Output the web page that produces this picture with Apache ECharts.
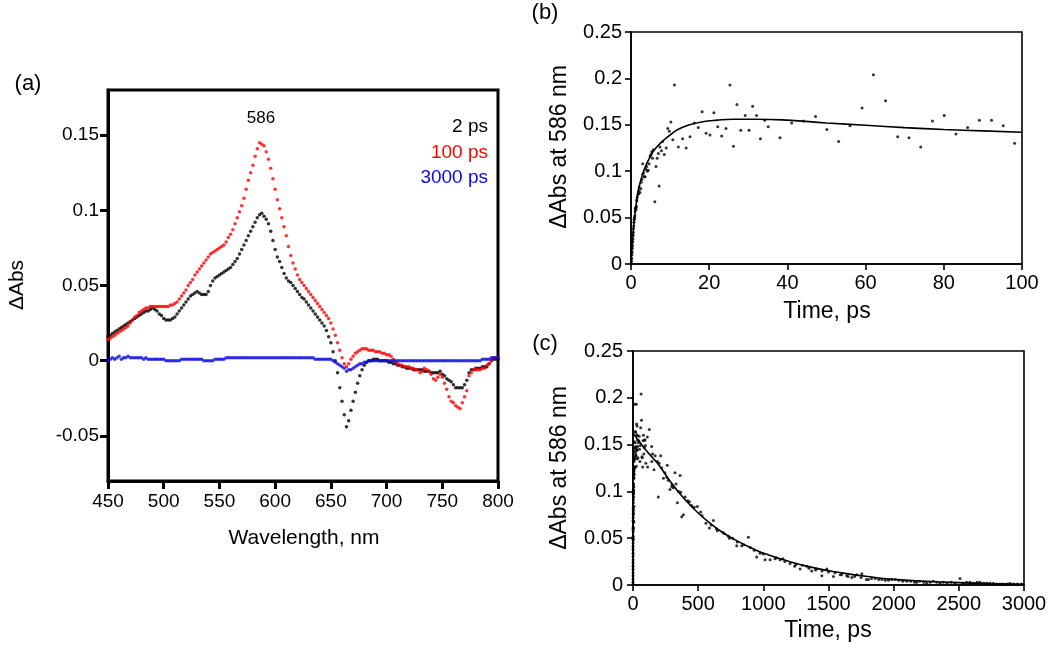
<!DOCTYPE html>
<html><head><meta charset="utf-8">
<script src="https://cdn.jsdelivr.net/npm/echarts@6/dist/echarts.min.js"></script>
<style>html,body{margin:0;padding:0;background:#fff}#c{width:1050px;height:649px}</style>
</head><body><div id="c"></div>
<script>
const FONT = '"Liberation Sans", Arial, Helvetica, sans-serif';

// ---------- panel (a): transient spectra, sampled every 2 nm from 450 nm ----------
const wlStart = 450, wlStep = 2;
const abs2ps = [
  0.016,0.017,0.018,0.019,0.020,0.021,0.022,0.023,0.024,0.025,
  0.026,0.027,0.028,0.029,0.030,0.031,0.032,0.033,0.033,0.034,
  0.035,0.034,0.033,0.031,0.030,0.028,0.027,0.027,0.027,0.028,
  0.029,0.031,0.033,0.035,0.037,0.039,0.041,0.043,0.044,0.045,
  0.046,0.045,0.044,0.044,0.044,0.046,0.050,0.053,0.055,0.056,
  0.057,0.058,0.059,0.060,0.061,0.062,0.064,0.066,0.068,0.071,
  0.074,0.077,0.080,0.083,0.086,0.089,0.092,0.095,0.097,0.098,
  0.096,0.094,0.091,0.086,0.080,0.074,0.069,0.066,0.062,0.058,
  0.055,0.053,0.052,0.050,0.048,0.046,0.044,0.042,0.041,0.039,
  0.037,0.035,0.033,0.031,0.029,0.027,0.025,0.023,0.020,0.016,
  0.012,0.006,0.000,-0.008,-0.018,-0.027,-0.036,-0.044,-0.040,-0.033,
  -0.027,-0.021,-0.015,-0.010,-0.006,-0.003,-0.001,0.000,0.000,0.001,
  0.001,0.001,0.000,0.000,0.000,0.000,-0.001,-0.001,-0.002,-0.002,
  -0.003,-0.003,-0.004,-0.004,-0.005,-0.005,-0.005,-0.006,-0.006,-0.006,
  -0.006,-0.006,-0.007,-0.007,-0.007,-0.008,-0.008,-0.008,-0.008,-0.007,
  -0.009,-0.010,-0.012,-0.013,-0.014,-0.016,-0.018,-0.018,-0.018,-0.018,
  -0.016,-0.013,-0.008,-0.006,-0.006,-0.005,-0.005,-0.005,-0.004,-0.004,
  -0.004,-0.002,0.000,0.001,0.001,0.001
];
const abs100ps = [
  0.014,0.015,0.016,0.017,0.018,0.019,0.020,0.021,0.022,0.023,
  0.025,0.027,0.029,0.030,0.032,0.033,0.034,0.035,0.035,0.036,
  0.036,0.036,0.036,0.036,0.036,0.036,0.036,0.036,0.037,0.037,
  0.038,0.039,0.041,0.043,0.045,0.047,0.050,0.052,0.054,0.057,
  0.059,0.061,0.063,0.065,0.067,0.069,0.071,0.072,0.073,0.074,
  0.075,0.076,0.077,0.079,0.082,0.084,0.087,0.091,0.095,0.099,
  0.103,0.108,0.114,0.120,0.125,0.130,0.136,0.141,0.145,0.144,
  0.143,0.139,0.134,0.128,0.121,0.114,0.107,0.101,0.095,0.089,
  0.083,0.076,0.070,0.065,0.061,0.057,0.054,0.052,0.050,0.048,
  0.046,0.044,0.042,0.040,0.038,0.036,0.034,0.032,0.030,0.028,
  0.025,0.021,0.017,0.012,0.007,0.002,-0.002,-0.004,-0.002,0.001,
  0.003,0.005,0.006,0.007,0.008,0.008,0.008,0.007,0.007,0.007,
  0.006,0.006,0.006,0.005,0.005,0.004,0.004,0.003,0.001,-0.001,
  -0.002,-0.003,-0.003,-0.004,-0.004,-0.004,-0.005,-0.005,-0.006,-0.006,
  -0.008,-0.007,-0.005,-0.006,-0.007,-0.009,-0.012,-0.013,-0.011,-0.009,
  -0.011,-0.015,-0.019,-0.024,-0.027,-0.028,-0.030,-0.031,-0.032,-0.028,
  -0.024,-0.020,-0.010,-0.008,-0.006,-0.006,-0.006,-0.006,-0.005,-0.005,
  -0.003,-0.002,0.000,0.002,0.002,0.002
];
const abs3000ps = [
  0.000,0.001,0.002,0.001,0.002,0.003,0.001,0.002,0.002,0.003,
  0.002,0.002,0.002,0.002,0.002,0.002,0.001,0.002,0.001,0.001,
  0.001,0.001,0.001,0.001,0.001,0.001,0.000,0.000,0.000,0.000,
  0.000,0.000,0.000,0.001,0.001,0.001,0.001,0.001,0.001,0.001,
  0.001,0.001,0.001,0.000,0.000,0.000,0.000,0.000,0.001,0.001,
  0.001,0.001,0.001,0.002,0.002,0.002,0.002,0.002,0.002,0.002,
  0.002,0.002,0.002,0.002,0.002,0.002,0.002,0.002,0.002,0.002,
  0.002,0.002,0.002,0.002,0.002,0.002,0.002,0.002,0.002,0.002,
  0.002,0.002,0.002,0.002,0.002,0.002,0.002,0.002,0.002,0.002,
  0.002,0.002,0.002,0.001,0.001,0.001,0.001,0.001,0.001,0.001,
  0.001,0.000,-0.001,-0.002,-0.003,-0.004,-0.005,-0.007,-0.006,-0.006,
  -0.005,-0.004,-0.003,-0.002,-0.002,-0.001,-0.001,0.000,0.000,0.000,
  0.000,0.000,0.000,0.000,0.000,0.000,0.000,0.000,0.000,0.000,
  0.000,0.000,0.000,0.000,0.000,0.000,0.000,0.000,0.000,0.000,
  0.000,0.000,0.000,0.000,0.000,0.000,0.000,0.000,0.000,0.000,
  0.000,0.000,0.000,0.000,0.000,0.000,0.000,0.000,0.000,0.000,
  0.000,0.000,0.000,0.000,0.000,0.000,0.000,0.000,0.001,0.001,
  0.001,0.001,0.002,0.002,0.002,0.002
];
const aTicksY = [-0.05, 0, 0.05, 0.1, 0.15];
const legendA = ['2 ps', '100 ps', '3000 ps'];

// ---------- panel (b): kinetics at 586 nm, 0-100 ps ----------
const pointsB = [
  [0.1,0.000],[0.15,0.003],[0.2,0.006],[0.25,0.010],[0.3,0.013],[0.35,0.017],[0.4,0.020],[0.45,0.024],
  [0.5,0.027],[0.55,0.031],[0.6,0.034],[0.65,0.038],[0.7,0.041],[0.75,0.045],[0.8,0.048],[0.85,0.050],
  [0.9,0.049],[1.0,0.052],[1.05,0.057],[1.1,0.060],[1.2,0.061],[1.3,0.059],[1.4,0.062],[1.45,0.069],
  [1.5,0.068],[1.6,0.072],[1.8,0.075],[1.9,0.076],[2.0,0.079],[2.1,0.083],[2.3,0.077],[2.5,0.081],
  [2.6,0.088],[2.8,0.091],[3.0,0.097],[3.0,0.108],[3.2,0.098],[3.4,0.094],[3.6,0.094],[3.8,0.102],
  [4.0,0.105],[4.2,0.100],[4.4,0.101],[4.6,0.108],[4.9,0.116],[5.1,0.118],[5.3,0.121],[5.5,0.114],
  [5.7,0.123],[6.1,0.067],[6.4,0.105],[6.7,0.114],[7.0,0.119],[7.2,0.084],[7.4,0.126],[7.8,0.122],
  [8.1,0.132],[8.5,0.118],[9.0,0.125],[9.4,0.146],[9.8,0.143],[10.2,0.153],[10.7,0.134],[11.1,0.193],
  [12.1,0.126],[13.2,0.135],[14.1,0.125],[15.1,0.137],[16.2,0.152],[17.2,0.147],[18.2,0.164],[19.2,0.141],
  [20.2,0.139],[21.2,0.163],[22.2,0.148],[23.2,0.138],[24.3,0.146],[25.3,0.193],[26.2,0.127],[27.1,0.172],
  [28.1,0.144],[29.2,0.160],[30.2,0.144],[31.1,0.170],[32.1,0.160],[33.1,0.135],[34.2,0.155],[35.1,0.148],
  [38.1,0.136],[41.1,0.152],[44.1,0.154],[47.2,0.159],[50.1,0.145],[53.1,0.132],[56.0,0.149],[59.1,0.168],
  [62.0,0.204],[65.1,0.176],[68.2,0.137],[71.1,0.136],[74.1,0.126],[77.1,0.154],[80.1,0.160],[83.1,0.140],
  [86.1,0.147],[89.1,0.155],[92.2,0.155],[95.2,0.149],[98.1,0.130]
];
const fitB = [
  [0,0],[0.3,0.020],[0.6,0.037],[1,0.054],[1.5,0.070],[2,0.082],[3,0.097],[4,0.108],[5,0.116],
  [6,0.123],[8,0.132],[10,0.139],[12,0.145],[15,0.150],[18,0.153],[22,0.155],[26,0.156],[32,0.156],
  [40,0.155],[50,0.152],[60,0.1495],[70,0.147],[80,0.145],[90,0.1435],[100,0.142]
];

// ---------- panel (c): kinetics at 586 nm, 0-3000 ps (later points; early ones are pointsB) ----------
const pointsC = [
  [110,0.158],[125,0.166],[112,0.126],[143,0.148],[145,0.132],[150,0.140],[161,0.123],[170,0.138],
  [187,0.132],[194,0.094],[200,0.130],[212,0.138],[220,0.125],[233,0.114],[245,0.120],[258,0.115],
  [263,0.128],[270,0.112],[284,0.102],[297,0.105],[300,0.107],[310,0.104],[322,0.120],[330,0.108],
  [340,0.088],[350,0.100],[361,0.117],[366,0.099],[374,0.073],[387,0.075],[400,0.094],[420,0.090],
  [433,0.089],[450,0.085],[470,0.083],[494,0.084],[520,0.078],[530,0.074],[560,0.066],[586,0.061],
  [600,0.064],[617,0.069],[640,0.060],[647,0.058],[690,0.056],[700,0.055],[732,0.052],[740,0.050],
  [765,0.050],[796,0.042],[800,0.046],[834,0.042],[850,0.043],[885,0.051],[900,0.040],[930,0.037],
  [949,0.030],[975,0.034],[1000,0.033],[1013,0.027],[1052,0.027],[1090,0.028],[1100,0.029],[1128,0.027],
  [1150,0.028],[1165,0.025],[1205,0.023],[1240,0.020],[1250,0.022],[1282,0.017],[1300,0.021],[1333,0.020],
  [1350,0.018],[1371,0.015],[1400,0.016],[1410,0.017],[1449,0.010],[1450,0.015],[1487,0.017],[1500,0.014],
  [1538,0.009],[1550,0.013],[1590,0.011],[1600,0.011],[1640,0.010],[1650,0.009],[1679,0.008],[1700,0.009],
  [1717,0.011],[1750,0.008],[1756,0.012],[1790,0.006],[1807,0.006],[1830,0.007],[1858,0.007],[1885,0.006],
  [1909,0.006],[1935,0.005],[1960,0.005],[1985,0.006],[2011,0.006],[2040,0.005],[2070,0.004],[2100,0.004],
  [2130,0.004],[2160,0.003],[2177,0.003],[2200,0.004],[2230,0.003],[2253,0.002],[2280,0.003],[2304,0.004],
  [2330,0.003],[2355,0.002],[2381,0.003],[2410,0.002],[2440,0.003],[2470,0.002],[2509,0.007],[2530,0.002],
  [2560,0.003],[2585,0.003],[2610,0.002],[2640,0.003],[2662,0.003],[2690,0.002],[2715,0.002],[2739,0.002],
  [2765,0.002],[2790,0.001],[2816,0.001],[2840,0.001],[2870,0.001],[2892,0.002],[2920,0.001],[2950,0.001],
  [2982,0.001]
];
const fitC = [
  [0,0.162],[50,0.153],[100,0.144],[150,0.136],[200,0.128],[300,0.108],[400,0.091],[500,0.077],
  [600,0.065],[700,0.055],[800,0.047],[900,0.040],[1000,0.034],[1200,0.025],[1400,0.018],[1600,0.013],
  [1800,0.009],[2000,0.006],[2250,0.004],[2500,0.0025],[2750,0.0015],[3000,0.0008]
];

// ---------- build ----------
const toXY = arr => arr.map((v, i) => [wlStart + i * wlStep, v]);
const chart = echarts.init(document.getElementById('c'), null, {renderer: 'canvas'});
const fmt = v => String(Math.round(v * 1000) / 1000);

function axis(grid, range, lineW, tickLen, margin, fs, custom) {
  const a = Object.assign({
    gridIndex: grid, type: 'value',
    axisLine: {show: true, onZero: false, lineStyle: {color: '#000', width: lineW}},
    axisTick: {show: true, inside: false, length: tickLen, lineStyle: {color: '#000', width: lineW}},
    axisLabel: {margin: margin, color: '#000', fontSize: fs, fontFamily: FONT, formatter: fmt},
    splitLine: {show: false}
  }, range);
  if (custom) { a.axisTick.customValues = custom; a.axisLabel.customValues = custom; }
  return a;
}

const gridBase = {show: true, borderColor: '#000', backgroundColor: 'transparent', containLabel: false, outerBoundsMode: 'none'};

const option = {
  animation: false,
  backgroundColor: '#fff',
  textStyle: {fontFamily: FONT},
  grid: [
    Object.assign({left: 108, top: 90, width: 390, height: 391, borderWidth: 3}, gridBase),
    Object.assign({left: 631, top: 32, width: 391, height: 232, borderWidth: 1.6}, gridBase),
    Object.assign({left: 633, top: 351, width: 391, height: 234, borderWidth: 1.6}, gridBase)
  ],
  xAxis: [
    axis(0, {min: 450, max: 800, interval: 50, position: 'bottom'}, 3, 8, 11, 19),
    axis(1, {min: 0, max: 100, interval: 20, position: 'bottom'}, 1.6, 6, 9, 20),
    axis(2, {min: 0, max: 3000, interval: 500, position: 'bottom'}, 1.6, 6, 9, 20)
  ],
  yAxis: [
    axis(0, {min: -0.08, max: 0.18, position: 'left'}, 3, 8, 9, 19, aTicksY),
    axis(1, {min: 0, max: 0.25, interval: 0.05, position: 'left'}, 1.6, 6, 9, 20),
    axis(2, {min: 0, max: 0.25, interval: 0.05, position: 'left'}, 1.6, 6, 10, 20)
  ],
  series: [
    {type: 'scatter', xAxisIndex: 0, yAxisIndex: 0, data: toXY(abs2ps), symbolSize: 3.5, itemStyle: {color: '#000'}, z: 3},
    {type: 'scatter', xAxisIndex: 0, yAxisIndex: 0, data: toXY(abs100ps), symbolSize: 3.5, itemStyle: {color: '#ff0000'}, z: 4},
    {type: 'scatter', xAxisIndex: 0, yAxisIndex: 0, data: toXY(abs3000ps), symbolSize: 3.5, itemStyle: {color: '#0a0ae6'}, z: 5},
    {type: 'scatter', xAxisIndex: 1, yAxisIndex: 1, data: pointsB, symbolSize: 3, itemStyle: {color: '#000'}},
    {type: 'line', xAxisIndex: 1, yAxisIndex: 1, data: fitB, showSymbol: false, smooth: true, lineStyle: {color: '#000', width: 1.6}},
    {type: 'scatter', xAxisIndex: 2, yAxisIndex: 2, data: pointsB.concat(pointsC), symbolSize: 3, itemStyle: {color: '#000'}},
    {type: 'line', xAxisIndex: 2, yAxisIndex: 2, data: fitC, showSymbol: false, smooth: true, lineStyle: {color: '#000', width: 1.6}}
  ],
  graphic: [
    {type: 'text', x: 28, y: 84, style: {text: '(a)', font: '22px ' + FONT, fill: '#000', align: 'center', verticalAlign: 'middle'}},
    {type: 'text', x: 261, y: 118, style: {text: '586', font: '17px ' + FONT, fill: '#000', align: 'center', verticalAlign: 'middle'}},
    {type: 'text', x: 488, y: 127, style: {text: legendA[0], font: '19px ' + FONT, fill: '#000', align: 'right', verticalAlign: 'middle'}},
    {type: 'text', x: 488, y: 153, style: {text: legendA[1], font: '19px ' + FONT, fill: '#ff0000', align: 'right', verticalAlign: 'middle'}},
    {type: 'text', x: 488, y: 178, style: {text: legendA[2], font: '19px ' + FONT, fill: '#0a0ae6', align: 'right', verticalAlign: 'middle'}},
    {type: 'text', x: 17, y: 285, rotation: Math.PI / 2, style: {text: 'ΔAbs', font: '21px ' + FONT, fill: '#000', align: 'center', verticalAlign: 'middle'}},
    {type: 'text', x: 304, y: 538, style: {text: 'Wavelength, nm', font: '21px ' + FONT, fill: '#000', align: 'center', verticalAlign: 'middle'}},
    {type: 'text', x: 545, y: 13, style: {text: '(b)', font: '22px ' + FONT, fill: '#000', align: 'center', verticalAlign: 'middle'}},
    {type: 'text', x: 560, y: 147, rotation: Math.PI / 2, style: {text: 'ΔAbs at 586 nm', font: '23px ' + FONT, fill: '#000', align: 'center', verticalAlign: 'middle'}},
    {type: 'text', x: 827, y: 312, style: {text: 'Time, ps', font: '23px ' + FONT, fill: '#000', align: 'center', verticalAlign: 'middle'}},
    {type: 'text', x: 545, y: 344, style: {text: '(c)', font: '22px ' + FONT, fill: '#000', align: 'center', verticalAlign: 'middle'}},
    {type: 'text', x: 560, y: 468, rotation: Math.PI / 2, style: {text: 'ΔAbs at 586 nm', font: '23px ' + FONT, fill: '#000', align: 'center', verticalAlign: 'middle'}},
    {type: 'text', x: 828, y: 631, style: {text: 'Time, ps', font: '23px ' + FONT, fill: '#000', align: 'center', verticalAlign: 'middle'}}
  ]
};
chart.setOption(option);
</script>
</body></html>
